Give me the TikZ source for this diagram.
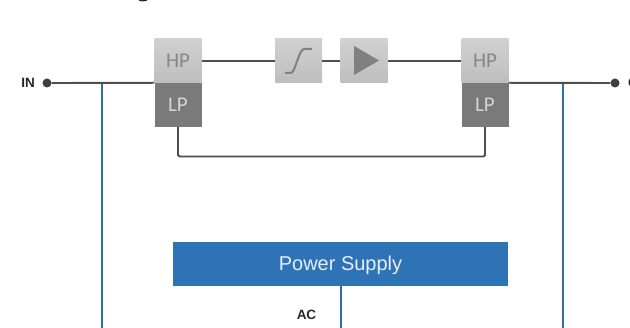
\documentclass[tikz,border=0pt]{standalone}
\usepackage{fontspec}
\setmainfont{Liberation Sans}
\newfontfamily\boxfont{Carlito}
\definecolor{hpA}{HTML}{D0D0D0}
\definecolor{hpB}{HTML}{BEBEBE}
\definecolor{lpc}{HTML}{7A7A7A}
\definecolor{wirec}{HTML}{4F4D4D}
\definecolor{bluew}{HTML}{2F6CA8}
\definecolor{psc}{HTML}{2E73B6}
\tikzset{
  x=1pt,y=-1pt,
  hpbox/.style={draw=none,top color=hpA,bottom color=hpB,minimum width=47pt,minimum height=44pt,inner sep=0pt,text=black!47,font=\boxfont\fontsize{21}{21}\selectfont},
  lpbox/.style={draw=none,fill=lpc,minimum width=47pt,minimum height=44pt,inner sep=0pt,text=black!17,font=\boxfont\fontsize{21}{21}\selectfont},
  fxbox/.style={draw=none,top color=hpA,bottom color=hpB,minimum width=47pt,minimum height=44pt,inner sep=0pt},
  wire/.style={draw=wirec,line width=1.9pt},
  bwire/.style={draw=bluew,line width=2pt},
  term/.style={circle,fill=wirec!80!black,minimum size=9pt,inner sep=0pt},
  lab/.style={font=\bfseries\fontsize{13.5}{13.5}\selectfont,text=black!85},
}
\begin{document}
\begin{tikzpicture}
\useasboundingbox[clip] (0,0) rectangle (630,328);
\node[hpbox] (hp1) at (178,61) {HP};
\node[lpbox] (lp1) at (178,105) {LP};
\node[fxbox] (sat) at (298.5,61) {};
\node[fxbox] (amp) at (364,61) {};
\node[hpbox] (hp2) at (485,61) {HP};
\node[lpbox] (lp2) at (485,105) {LP};
\node[term] (in) at (47,83) {};
\node[term] (out) at (615,83) {};
\node[lab,anchor=east] (inl) at (38.5,83) {IN};
\node[lab,anchor=west] (outl) at (624.5,83) {OUT};
\node[draw=none,fill=psc,minimum width=335pt,minimum height=44pt,inner sep=0pt,text=white!88!psc,text height=14pt,text depth=0pt,font=\fontsize{20}{20}\selectfont] (ps) at (340.5,264) {Power Supply};
\node[lab] (ac) at (306.5,315) {AC};
\coordinate (b1t) at (102,83);
\coordinate (b1b) at (102,328);
\coordinate (b2t) at (562.5,83);
\coordinate (b2b) at (562.5,328);
\coordinate (acb) at (340.5,328);
\coordinate (lc1) at (178,156.5);
\coordinate (lc2) at (485,156.5);
\coordinate (in1) at (lp1.north west);
\coordinate (out1) at (lp2.north east);
\draw[bwire] (b1t) -- (b1b);
\draw[bwire] (b2t) -- (b2b);
\draw[bwire] (ps.south) -- (acb);
\draw[wire] (in) -- (in1);
\draw[wire] (out1) -- (out);
\draw[wire] (hp1.east) -- (sat.west);
\draw[wire] (sat.east) -- (amp.west);
\draw[wire] (amp.east) -- (hp2.west);
\draw[wire,rounded corners=1.5pt] (lp1.south) -- (lc1) -- (lc2) -- (lp2.south);
\draw[draw=black!50,line width=2pt] (285,73) -- (291,73) .. controls (295,73) and (299,49) .. (304,49) -- (312,49);
\fill[black!50] (354,46) -- (379,60.5) -- (354,75) -- cycle;
\fill[black!85] (143,-0.5) ellipse (5pt and 2pt);
\end{tikzpicture}
\end{document}
